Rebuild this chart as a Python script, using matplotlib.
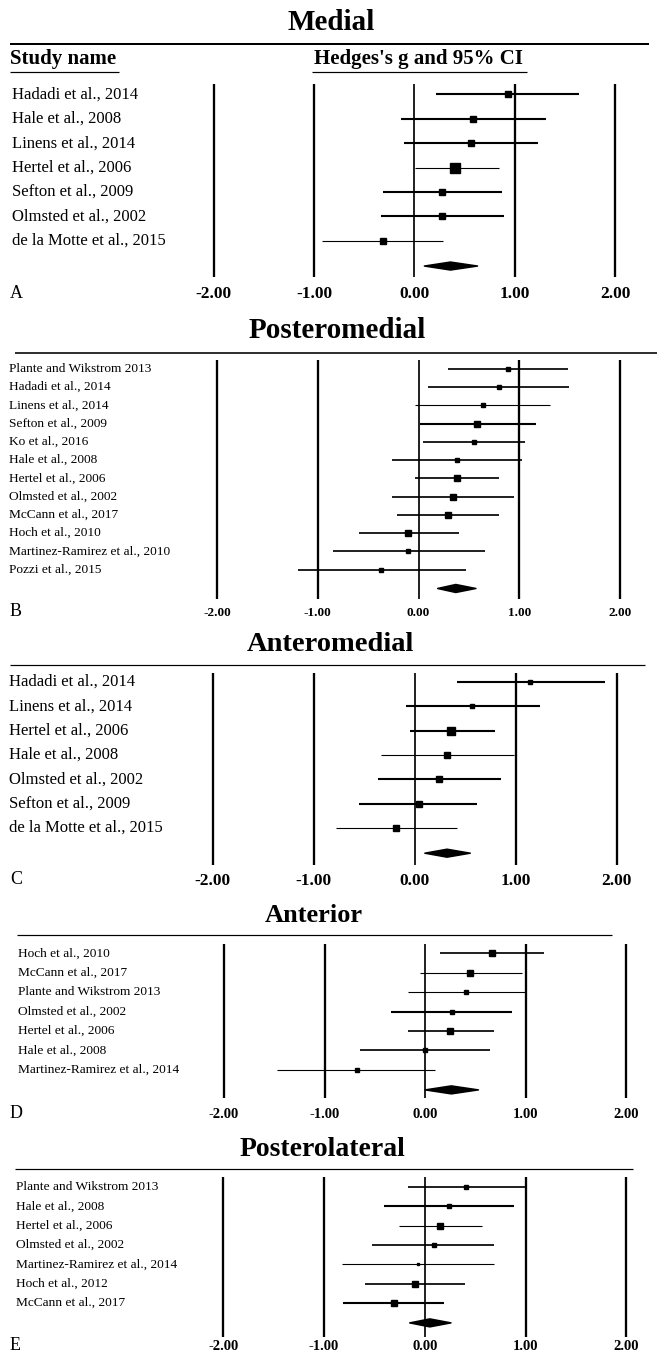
import matplotlib
matplotlib.use("Agg")
import matplotlib.pyplot as plt
from matplotlib.patches import Polygon
from matplotlib.lines import Line2D

plt.rcParams['font.family'] = ['Liberation Serif', 'DejaVu Serif']

W, H, DPI = 657, 1363, 100
PT = 72.0 / DPI  # points per pixel

# ---------------- data ----------------
tick_values = [-2, -1, 0, 1, 2]
tick_labels = ["-2.00", "-1.00", "0.00", "1.00", "2.00"]

titles = ["Medial", "Posteromedial", "Anteromedial", "Anterior", "Posterolateral"]
letters = ["A", "B", "C", "D", "E"]

studies_A = ["Hadadi et al., 2014", "Hale et al., 2008", "Linens et al., 2014",
             "Hertel et al., 2006", "Sefton et al., 2009", "Olmsted et al., 2002",
             "de la Motte et al., 2015"]
g_A = [0.93, 0.58, 0.56, 0.41, 0.28, 0.28, -0.31]
lo_A = [0.22, -0.13, -0.10, 0.01, -0.31, -0.33, -0.92]
hi_A = [1.64, 1.31, 1.23, 0.84, 0.87, 0.89, 0.29]
weight_A = [8.9, 11.1, 11.1, 23.9, 12.6, 12.6, 12.6]
summary_A = [0.36, 0.10, 0.63]

studies_B = ["Plante and Wikstrom 2013", "Hadadi et al., 2014", "Linens et al., 2014",
             "Sefton et al., 2009", "Ko et al., 2016", "Hale et al., 2008",
             "Hertel et al., 2006", "Olmsted et al., 2002", "McCann et al., 2017",
             "Hoch et al., 2010", "Martinez-Ramirez et al., 2010", "Pozzi et al., 2015"]
g_B = [0.89, 0.80, 0.64, 0.58, 0.55, 0.38, 0.38, 0.34, 0.29, -0.10, -0.10, -0.37]
lo_B = [0.29, 0.09, -0.03, 0.01, 0.04, -0.26, -0.03, -0.26, -0.21, -0.59, -0.85, -1.20]
hi_B = [1.48, 1.49, 1.31, 1.17, 1.06, 1.03, 0.80, 0.95, 0.80, 0.40, 0.66, 0.47]
weight_B = [4.9, 3.2, 5.8, 7.8, 5.8, 4.2, 9.7, 7.1, 8.9, 7.8, 3.2, 2.9]
summary_B = [0.37, 0.19, 0.57]

studies_C = ["Hadadi et al., 2014", "Linens et al., 2014", "Hertel et al., 2006",
             "Hale et al., 2008", "Olmsted et al., 2002", "Sefton et al., 2009",
             "de la Motte et al., 2015"]
g_C = [1.14, 0.57, 0.36, 0.32, 0.24, 0.04, -0.19]
lo_C = [0.42, -0.09, -0.05, -0.33, -0.36, -0.55, -0.78]
hi_C = [1.88, 1.24, 0.79, 0.98, 0.85, 0.62, 0.42]
weight_C = [5.8, 5.8, 19.8, 7.8, 8.9, 8.9, 8.9]
summary_C = [0.32, 0.10, 0.55]

studies_D = ["Hoch et al., 2010", "McCann et al., 2017", "Plante and Wikstrom 2013",
             "Olmsted et al., 2002", "Hertel et al., 2006", "Hale et al., 2008",
             "Martinez-Ramirez et al., 2014"]
g_D = [0.66, 0.45, 0.41, 0.27, 0.25, 0.00, -0.68]
lo_D = [0.15, -0.05, -0.17, -0.34, -0.17, -0.65, -1.47]
hi_D = [1.18, 0.96, 1.00, 0.86, 0.68, 0.64, 0.10]
weight_D = [6.9, 9.7, 5.8, 5.8, 11.1, 5.8, 4.2]
summary_D = [0.26, 0.00, 0.53]

studies_E = ["Plante and Wikstrom 2013", "Hale et al., 2008", "Hertel et al., 2006",
             "Olmsted et al., 2002", "Martinez-Ramirez et al., 2014", "Hoch et al., 2012",
             "McCann et al., 2017"]
g_E = [0.41, 0.24, 0.15, 0.09, -0.07, -0.10, -0.31]
lo_E = [-0.17, -0.40, -0.26, -0.52, -0.82, -0.59, -0.81]
hi_E = [1.00, 0.89, 0.57, 0.69, 0.69, 0.40, 0.19]
weight_E = [5.8, 4.2, 11.1, 4.2, 2.3, 6.9, 8.9]
summary_E = [0.05, -0.15, 0.26]

# ---------------- styles / layout (pixels) ----------------
THICK, MED, THIN = 2.1, 1.7, 1.1
lw_A = [THICK, THICK, THICK, THIN, THICK, THICK, THIN]
lw_B = [MED, MED, THIN, THICK, MED, MED, MED, MED, MED, MED, MED, MED]
lw_C = [THICK, THICK, THICK, THIN, THICK, THICK, THIN]
lw_D = [MED, THIN, THIN, THICK, MED, MED, THIN]
lw_E = [MED, THICK, THIN, MED, THIN, MED, THICK]

layout = [
    dict(tx=331, ty=23, tfs=21, ry=44, rx0=10, rx1=649, rlw=2.0, vtop=84, vbot=276.5,
         row0=94.3, sp=24.43, tky=293, xm2=213.7, xp2=615, lx=11.7, lfs=12, tkfs=12.5),
    dict(tx=337, ty=331, tfs=21, ry=353, rx0=15, rx1=657, rlw=1.6, vtop=360, vbot=599,
         row0=368.7, sp=18.27, tky=611.6, xm2=217, xp2=620, lx=9.2, lfs=9.6, tkfs=9.5),
    dict(tx=330, ty=645, tfs=20.5, ry=664.5, rx0=10, rx1=645, rlw=1.2, vtop=672.8, vbot=865,
         row0=681.8, sp=24.38, tky=880, xm2=212.8, xp2=616.7, lx=9.2, lfs=12, tkfs=12.5),
    dict(tx=314, ty=915.5, tfs=19, ry=935.3, rx0=17, rx1=612, rlw=1.2, vtop=944.3, vbot=1098,
         row0=953.3, sp=19.43, tky=1113, xm2=224, xp2=626.3, lx=17.6, lfs=9.6, tkfs=10.5),
    dict(tx=322.6, ty=1149.5, tfs=20, ry=1169, rx0=15, rx1=633, rlw=1.2, vtop=1177, vbot=1337,
         row0=1187, sp=19.33, tky=1346, xm2=223.3, xp2=626.3, lx=16, lfs=9.6, tkfs=10.5),
]

panels = [
    (studies_A, g_A, lo_A, hi_A, weight_A, summary_A, lw_A),
    (studies_B, g_B, lo_B, hi_B, weight_B, summary_B, lw_B),
    (studies_C, g_C, lo_C, hi_C, weight_C, summary_C, lw_C),
    (studies_D, g_D, lo_D, hi_D, weight_D, summary_D, lw_D),
    (studies_E, g_E, lo_E, hi_E, weight_E, summary_E, lw_E),
]

fig = plt.figure(figsize=(W / DPI, H / DPI), dpi=DPI)
fig.patch.set_facecolor("white")


def fx(px):
    return px / W


def fy(py):
    return 1 - py / H


def hline(x0, x1, y, lw):
    fig.add_artist(Line2D([fx(x0), fx(x1)], [fy(y), fy(y)], transform=fig.transFigure,
                          color="black", lw=lw * PT, solid_capstyle="butt"))


for (studies, g, lo, hi, wt, summ, lws), L, title, letter in zip(panels, layout, titles, letters):
    x0 = (L["xm2"] + L["xp2"]) / 2
    unit = (L["xp2"] - L["xm2"]) / 4
    ax = fig.add_axes([0, fy(L["vbot"]), 1, (L["vbot"] - L["vtop"]) / H])
    ax.set_xlim(-x0 / unit, (W - x0) / unit)
    ax.set_ylim((L["vbot"] - L["row0"]) / L["sp"], (L["vtop"] - L["row0"]) / L["sp"])
    ax.patch.set_alpha(0)
    for s in ax.spines.values():
        s.set_visible(False)
    ax.set_yticks([])
    ax.set_xticks(tick_values)
    ax.set_xticklabels(tick_labels, fontweight="bold", fontsize=L["tkfs"], va="center")
    d = L["tky"] - L["vbot"] + 1.0
    ax.tick_params(axis="x", length=0, pad=d * PT)

    for t in tick_values:
        ax.axvline(t, color="black", lw=(1.7 if t == 0 else 2.3) * PT)

    n = len(studies)
    for i in range(n):
        ax.plot([lo[i], hi[i]], [i, i], color="black", lw=lws[i] * PT, solid_capstyle="butt")
        ms = 1.95 * (wt[i] ** 0.5) * PT
        ax.plot(g[i], i, marker="s", ms=ms, color="black", mec="black", lw=0)
        ax.text(fx(L["lx"]), i, studies[i], transform=ax.get_yaxis_transform(),
                ha="left", va="center", fontsize=L["lfs"], clip_on=False)

    est, slo, shi = summ
    yd = n + 0.03
    hh = 4.0 / L["sp"]
    ax.add_patch(Polygon([[slo, yd], [est, yd - hh], [shi, yd], [est, yd + hh]],
                         closed=True, fc="black", ec="black", lw=1.5 * PT, joinstyle="round"))

    fig.text(fx(L["tx"]), fy(L["ty"]), title, ha="center", va="center",
             fontsize=L["tfs"], fontweight="bold")
    hline(L["rx0"], L["rx1"], L["ry"], L["rlw"])
    fig.text(fx(10), fy(L["tky"]), letter, ha="left", va="center", fontsize=13)

# header of the first panel
fig.text(fx(10), fy(59), "Study name", ha="left", va="center", fontsize=15, fontweight="bold")
hline(10, 119, 72, 1.2)
fig.text(fx(419), fy(59), "Hedges's g and 95% CI", ha="center", va="center",
         fontsize=15, fontweight="bold")
hline(312, 527, 72, 1.2)

fig.savefig("out.png", dpi=DPI, facecolor="white")
